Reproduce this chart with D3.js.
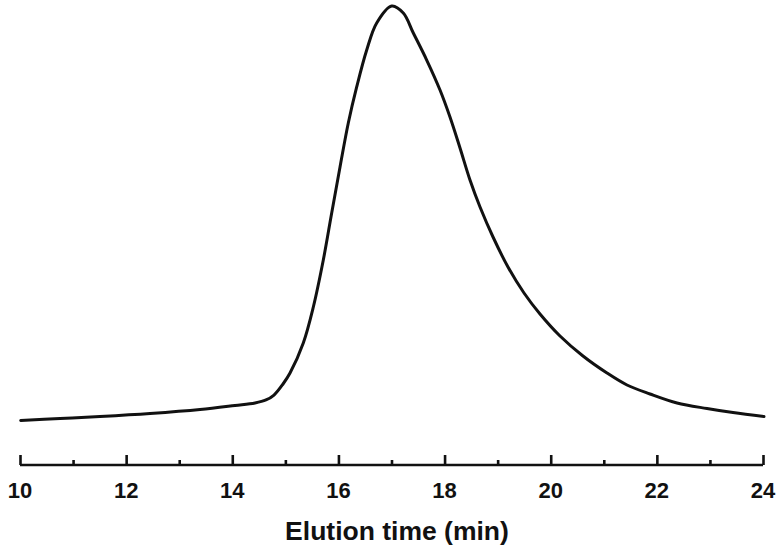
<!DOCTYPE html>
<html>
<head>
<meta charset="utf-8">
<script src="https://cdn.jsdelivr.net/npm/d3@7"></script>
<style>
  html, body { margin: 0; padding: 0; background: #fff; }
  svg { display: block; }
</style>
</head>
<body>
<svg id="chart" width="784" height="554"></svg>
<script>
// Data (arbitrary detector units)
const elutionTime = [10.013, 10.754, 11.507, 12.450, 13.392, 14.051, 14.428, 14.635, 14.786, 14.956, 15.088, 15.338, 15.527, 15.715, 15.873, 16.030, 16.186, 16.344, 16.533, 16.721, 17.004, 17.222, 17.411, 17.663, 17.914, 18.102, 18.291, 18.479, 18.668, 18.913, 19.195, 19.497, 19.798, 20.175, 20.608, 21.060, 21.437, 21.871, 22.380, 22.945, 23.435, 24.019];
const signal =      [2.24, 2.71, 3.18, 3.89, 4.83, 5.78, 6.37, 7.08, 8.25, 10.85, 13.44, 20.52, 29.01, 40.09, 51.18, 62.03, 72.41, 80.90, 89.62, 95.99, 100.0, 98.35, 93.63, 87.26, 80.19, 73.82, 66.51, 58.96, 52.59, 45.52, 38.44, 32.31, 27.36, 22.17, 17.45, 13.44, 10.61, 8.49, 6.37, 5.07, 4.13, 3.18];
const majorTicks = [10, 12, 14, 16, 18, 20, 22, 24];
const minorTicks = [11, 13, 15, 17, 19, 21, 23];
const xTitle = "Elution time (min)";

const svg = d3.select("#chart");
const x = d3.scaleLinear().domain([10, 24]).range([20, 763]);
const y = d3.scaleLinear().domain([0, 100]).range([430, 6]);
const axisY = 465;

const pts = elutionTime.map((t, i) => [t, signal[i]]);
const line = d3.line().x(d => x(d[0])).y(d => y(d[1])).curve(d3.curveCatmullRom.alpha(0.5));

svg.append("path")
  .datum(pts)
  .attr("d", line)
  .attr("fill", "none")
  .attr("stroke", "#111")
  .attr("stroke-width", 3)
  .attr("stroke-linejoin", "round")
  .attr("stroke-linecap", "round");

// Major axis (ticks pointing up)
const axisMajor = d3.axisTop(x).tickValues(majorTicks).tickSize(10).tickFormat("");
const gMaj = svg.append("g").attr("transform", `translate(0,${axisY})`).call(axisMajor);
gMaj.select(".domain").attr("stroke", "#111").attr("stroke-width", 2.6).attr("d", `M${x(10)},0H${x(24)}`);
gMaj.selectAll(".tick line").attr("stroke", "#111").attr("stroke-width", 2.6);

const axisMinor = d3.axisTop(x).tickValues(minorTicks).tickSize(5).tickFormat("");
const gMin = svg.append("g").attr("transform", `translate(0,${axisY})`).call(axisMinor);
gMin.select(".domain").remove();
gMin.selectAll(".tick line").attr("stroke", "#111").attr("stroke-width", 2.6);

// Tick labels
svg.append("g").selectAll("text")
  .data(majorTicks)
  .join("text")
  .attr("x", d => x(d))
  .attr("y", 498)
  .attr("text-anchor", "middle")
  .attr("font-family", "Liberation Sans, Arial, sans-serif")
  .attr("font-weight", "bold")
  .attr("font-size", 22)
  .attr("fill", "#111")
  .text(d => d);

svg.append("text")
  .attr("x", 397)
  .attr("y", 540)
  .attr("text-anchor", "middle")
  .attr("font-family", "Liberation Sans, Arial, sans-serif")
  .attr("font-weight", "bold")
  .attr("font-size", 26.5)
  .attr("fill", "#111")
  .text(xTitle);
</script>
</body>
</html>
